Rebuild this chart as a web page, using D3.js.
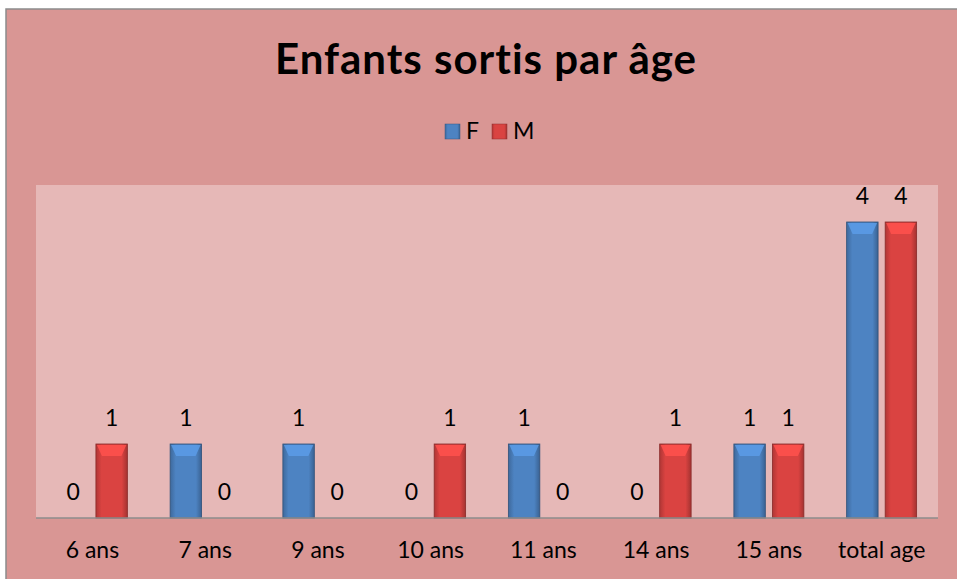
<!DOCTYPE html>
<html>
<head>
<meta charset="utf-8">
<script src="https://cdnjs.cloudflare.com/ajax/libs/d3/7.8.5/d3.min.js"></script>
<style>
body { margin: 0; background: #fff; }
svg { display: block; font-family: Lato, "Open Sans", sans-serif; }
</style>
</head>
<body>
<svg width="957" height="579"></svg>
<script>
var categories = ['6 ans', '7 ans', '9 ans', '10 ans', '11 ans', '14 ans', '15 ans', 'total age'];
var seriesNames = ['F', 'M'];
var valuesF = [0, 1, 1, 0, 1, 0, 1, 4];
var valuesM = [1, 0, 0, 1, 0, 1, 1, 4];

var svg = d3.select('svg');
var colors = { F: '#4a7ebb', M: '#d2413f' };

// chart background + border
svg.append('rect')
  .attr('x', 6).attr('y', 9).attr('width', 960).attr('height', 580)
  .attr('fill', '#d99694').attr('stroke', '#8c8c8c').attr('stroke-width', 1.5);

var plot = { left: 36, right: 938, top: 185, bottom: 518 };
svg.append('rect')
  .attr('x', plot.left).attr('y', plot.top)
  .attr('width', plot.right - plot.left).attr('height', plot.bottom - plot.top)
  .attr('fill', '#e6b8b7');

var x = d3.scaleBand().domain(categories).range([plot.left, plot.right]);
var sub = d3.scaleBand().domain(seriesNames).range([-35, 35]).paddingInner(0.184);
var y = d3.scaleLinear().domain([0, 4.5]).range([plot.bottom, plot.top]);

// gradients
var defs = svg.append('defs');
seriesNames.forEach(function (s) {
  var base = d3.color(colors[s]);
  var g = defs.append('linearGradient').attr('id', 'g' + s)
    .attr('x1', 0).attr('x2', 1).attr('y1', 0).attr('y2', 0);
  g.append('stop').attr('offset', '0%').attr('stop-color', base.darker(0.5));
  g.append('stop').attr('offset', '18%').attr('stop-color', base.brighter(0.1));
  g.append('stop').attr('offset', '82%').attr('stop-color', base.brighter(0.1));
  g.append('stop').attr('offset', '100%').attr('stop-color', base.darker(0.7));
});

// title
svg.append('text')
  .attr('x', 486).attr('y', 74)
  .attr('text-anchor', 'middle')
  .attr('font-size', 42).attr('font-weight', 'bold')
  .attr('letter-spacing', 1)
  .attr('fill', '#000')
  .text('Enfants sortis par âge');

// legend
var legend = svg.append('g').attr('transform', 'translate(445,124)');
seriesNames.forEach(function (s, i) {
  var lg = legend.append('g').attr('transform', 'translate(' + (i * 47) + ',0)');
  lg.append('rect').attr('width', 15).attr('height', 15)
    .attr('fill', 'url(#g' + s + ')').attr('stroke', d3.color(colors[s]).darker(1)).attr('stroke-width', 0.5);
  lg.append('text').attr('x', 21).attr('y', 15)
    .attr('font-size', 23).attr('fill', '#000').text(s);
});

// bars
var data = [];
categories.forEach(function (c, i) {
  data.push({ cat: c, s: 'F', v: valuesF[i] });
  data.push({ cat: c, s: 'M', v: valuesM[i] });
});

var bars = svg.append('g').selectAll('g').data(data).join('g')
  .attr('transform', function (d) {
    return 'translate(' + (x(d.cat) + x.bandwidth() / 2 + sub(d.s)) + ',0)';
  });

bars.filter(function (d) { return d.v > 0; }).each(function (d) {
  var g = d3.select(this);
  var w = sub.bandwidth();
  var top = y(d.v), h = y(0) - y(d.v);
  g.append('rect').attr('x', 0).attr('y', top).attr('width', w).attr('height', h)
    .attr('fill', 'url(#g' + d.s + ')')
    .attr('stroke', d3.color(colors[d.s]).darker(1.2)).attr('stroke-width', 0.8);
  // bevel on top
  g.append('path')
    .attr('d', 'M1,' + (top + 1) + 'L' + (w - 1) + ',' + (top + 1) + 'L' + (w - 6) + ',' + (top + 12) + 'L6,' + (top + 12) + 'Z')
    .attr('fill', d3.color(colors[d.s]).brighter(0.6)).attr('opacity', 0.85);
});

// value labels
bars.append('text')
  .attr('x', sub.bandwidth() / 2)
  .attr('y', function (d) { return y(d.v) - 18; })
  .attr('text-anchor', 'middle')
  .attr('font-size', 23).attr('fill', '#000')
  .text(function (d) { return d.v; });

// baseline
svg.append('line')
  .attr('x1', plot.left).attr('x2', plot.right)
  .attr('y1', plot.bottom).attr('y2', plot.bottom)
  .attr('stroke', '#8c8c8c').attr('stroke-width', 1.5);

// category axis labels
var xAxis = d3.axisBottom(x).tickSize(0).tickPadding(24);
var ax = svg.append('g').attr('transform', 'translate(0,' + plot.bottom + ')').call(xAxis);
ax.select('.domain').remove();
ax.selectAll('text').attr('font-size', 23).attr('fill', '#000')
  .attr('font-family', 'Lato, "Open Sans", sans-serif');
</script>
</body>
</html>
